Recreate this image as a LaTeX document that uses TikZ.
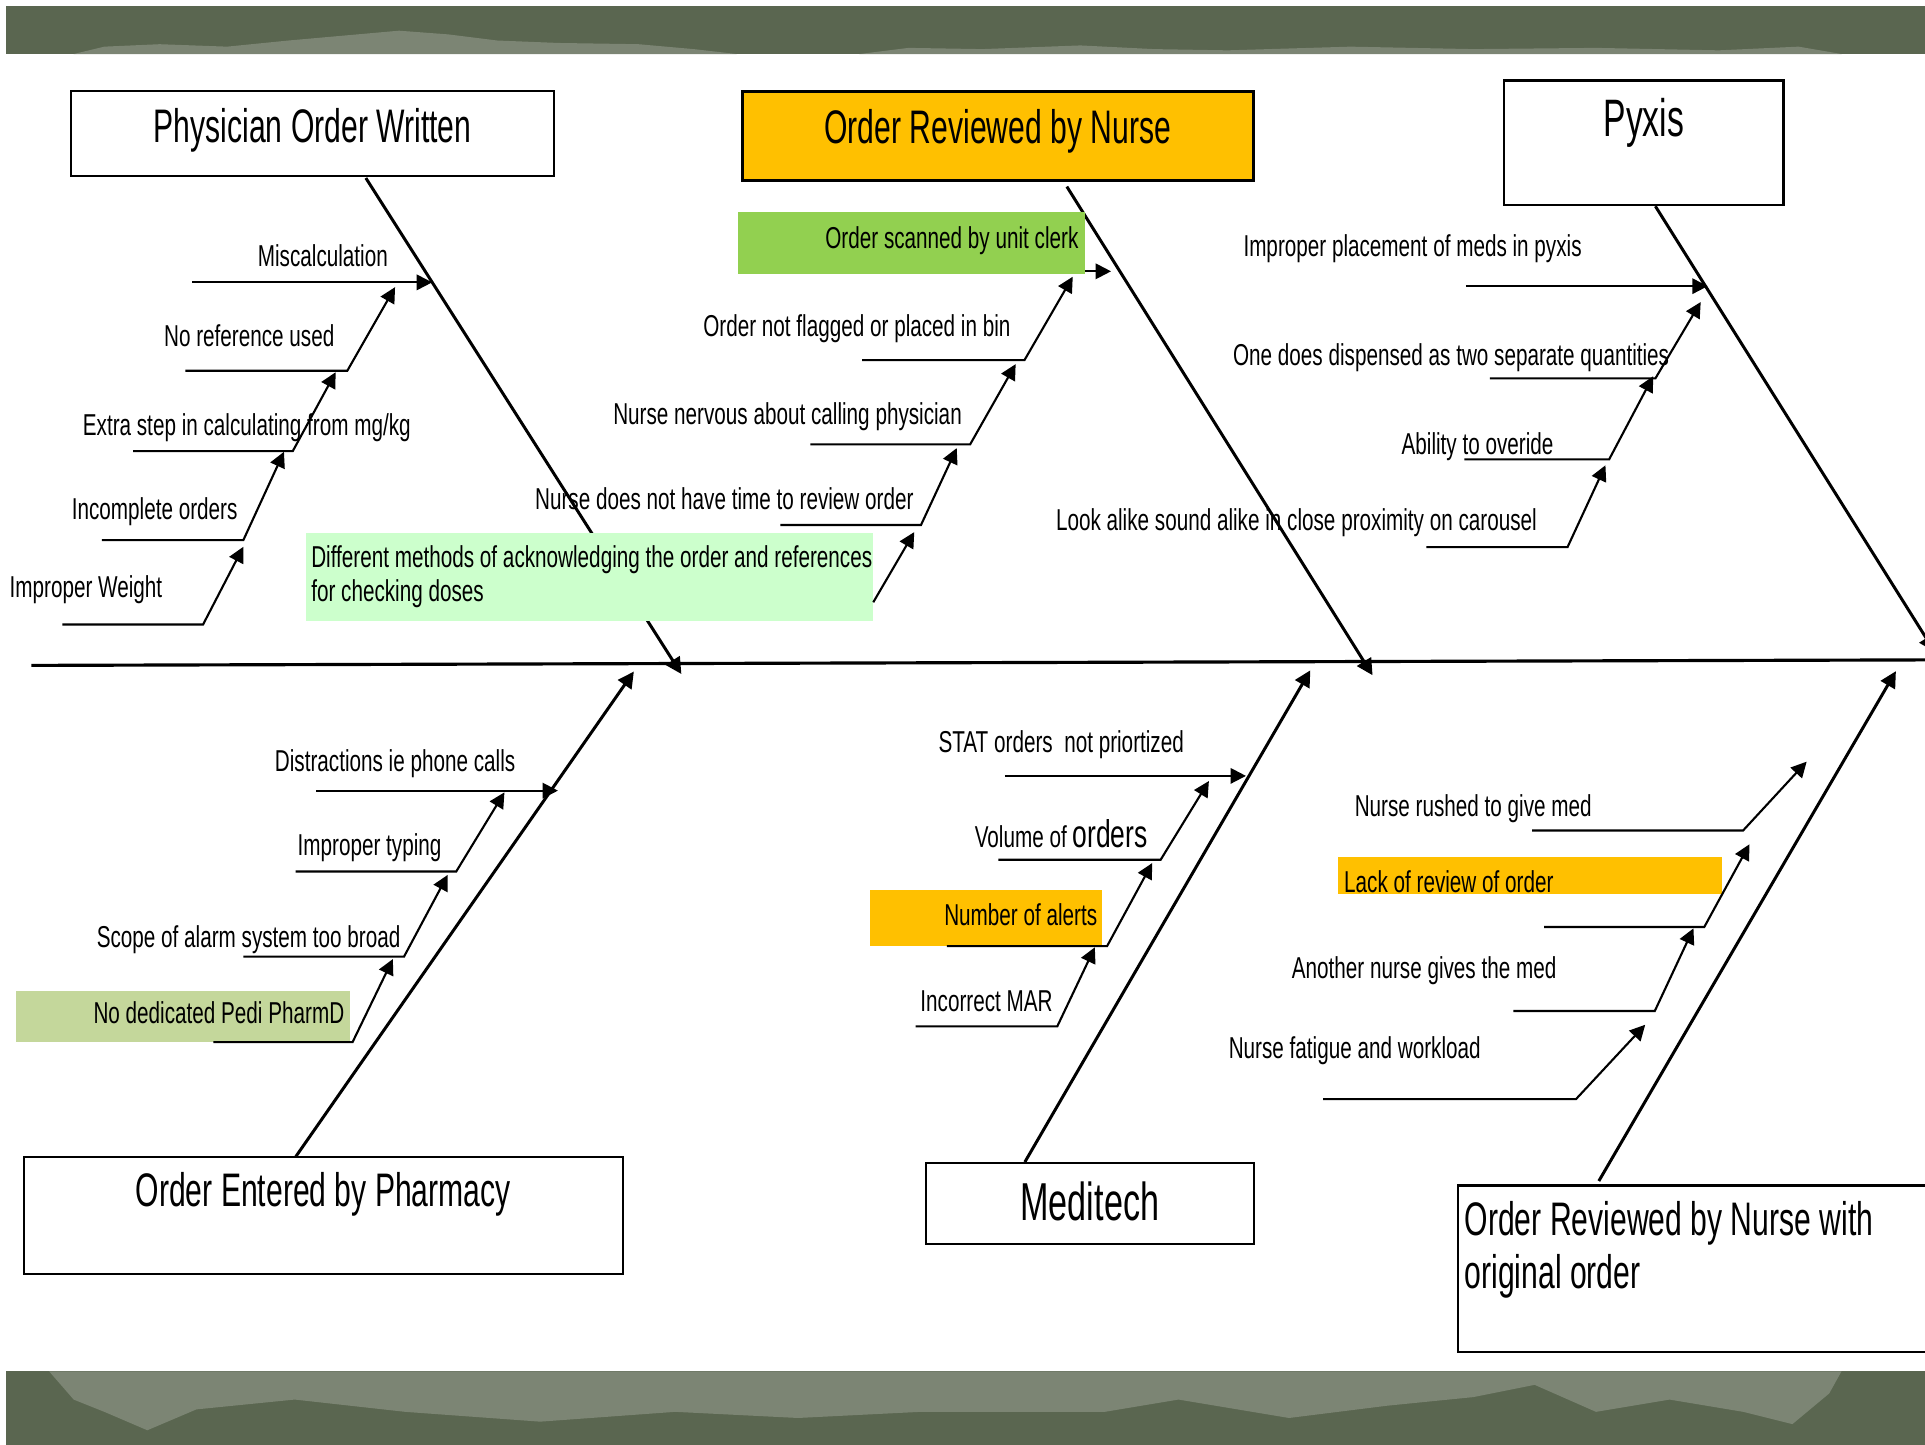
\documentclass[tikz,border=0pt]{standalone}
\usepackage{fontspec}
\setmainfont[FakeStretch=0.64]{Liberation Sans}
\newfontfamily\causefont[FakeStretch=0.685]{Liberation Sans}
\usetikzlibrary{positioning,arrows.meta,fit}

\definecolor{bandDark}{HTML}{5A6650}
\definecolor{bandLight}{HTML}{7C8574}
\definecolor{amber}{HTML}{FFC000}
\definecolor{leafGreen}{HTML}{92D050}
\definecolor{paleGreen}{HTML}{CCFFCC}
\definecolor{oliveGreen}{HTML}{C4D79B}

\tikzset{
  spine/.style={line width=0.9pt},
  bone/.style={line width=0.85pt,-{Triangle[length=4.6pt,width=4.6pt]}},
  twig/.style={line width=0.6pt,-{Triangle[length=4.4pt,width=4.4pt]}},
  catbox/.style={draw,line width=0.6pt,inner sep=0pt},
  hilite/.style={inner sep=0pt},
  causetext/.style={font=\causefont\fontsize{8.6}{9.6}\selectfont,inner sep=0pt},
  cause/.style={causetext,text height=1.6ex,text depth=0.4ex},
  cattext/.style={font=\fontsize{13.4}{15.2}\selectfont,inner sep=0pt},
}

\begin{document}
\begin{tikzpicture}[x=0.012277cm,y=-0.012277cm]
	\useasboundingbox (0,0) rectangle (1568,1177);
	\clip (0,0) rectangle (1568,1177);
	
	% background bands
	\fill[bandDark] (5,5) rectangle (1568,44);
	\fill[bandLight] (60,44) -- (85,38) -- (130,36) -- (185,38) -- (235,33) -- (280,29) -- (325,25) -- (365,28) -- (405,33) -- (455,35) -- (520,36) -- (565,40) -- (600,44) -- cycle;
	\fill[bandLight] (700,44) -- (740,39) -- (800,40) -- (880,37) -- (940,40) -- (1000,41) -- (1100,38) -- (1200,40) -- (1300,39) -- (1400,41) -- (1465,38) -- (1500,44) -- cycle;
	\fill[bandDark] (5,1117) rectangle (1568,1177);
	\fill[bandLight] (40,1117) -- (60,1140) -- (85,1150) -- (120,1165) -- (160,1148) -- (240,1140) -- (330,1150) -- (440,1158) -- (550,1150) -- (650,1155) -- (750,1150) -- (900,1150) -- (960,1140) -- (1050,1155) -- (1130,1145) -- (1200,1138) -- (1250,1128) -- (1300,1150) -- (1360,1140) -- (1420,1150) -- (1460,1160) -- (1490,1135) -- (1500,1117) -- cycle;
	
	% spine
	\coordinate (tail) at (25.5,542);
	\coordinate (head) at (1570,537.5);
	\draw[spine] (tail) -- (head);
	
	% category boxes
	\node[catbox,fit={(58,74) (451,143)}] (phys) {};
	\node[cattext] (physT) at (254.6,106.5) {Physician Order Written};
	\node[catbox,fill=amber,line width=0.9pt,fit={(604.7,74.2) (1021.1,147.1)}] (nurse) {};
	\node[cattext] (nurseT) at (812.7,107) {Order Reviewed by Nurse};
	\node[catbox,fit={(1224.8,65.6) (1452.7,167.1)}] (pyxis) {};
	\node[cattext,font=\fontsize{15}{17}\selectfont] (pyxisT) at (1339,100) {Pyxis};
	\node[catbox,fit={(19.3,942.4) (507.2,1037.4)}] (pharm) {};
	\node[cattext] (pharmT) at (263.3,972.5) {Order Entered by Pharmacy};
	\node[catbox,fit={(754,947.5) (1021.2,1013.4)}] (medi) {};
	\node[cattext,font=\fontsize{15.2}{17}\selectfont] (mediT) at (887.7,979) {Meditech};
	\node[catbox,fit={(1187.6,965.6) (1600,1101)}] (recheck) {};
	\node[cattext,anchor=west,align=left] (recheckT) at (1192.5,1018) {Order Reviewed by Nurse with\\original order};
	
	% Physician Order Written
	\coordinate (physS) at (298,145);
	\coordinate (physE) at (555,549);
	\draw[bone] (physS) -- (physE);
	\coordinate (miscA) at (156.4,230); \coordinate (miscC) at (352,230);
	\draw[twig] (miscA) -- (miscC);
	\node[cause] (miscL) at (263,208) {Miscalculation};
	\coordinate (nrefA) at (150.9,302); \coordinate (nrefB) at (282.9,302); \coordinate (nrefC) at (321.8,233.9);
	\draw[twig] (nrefA) -- (nrefB) -- (nrefC);
	\node[cause] (nrefL) at (203,273) {No reference used};
	\coordinate (xtraA) at (108.4,367.4); \coordinate (xtraB) at (238.5,367.4); \coordinate (xtraC) at (273.4,303.2);
	\draw[twig] (xtraA) -- (xtraB) -- (xtraC);
	\node[cause] (xtraL) at (201,346) {Extra step in calculating from mg/kg};
	\coordinate (incoA) at (82.9,440); \coordinate (incoB) at (198.2,440); \coordinate (incoC) at (231.3,368);
	\draw[twig] (incoA) -- (incoB) -- (incoC);
	\node[cause] (incoL) at (126,414) {Incomplete orders};
	\coordinate (wgtA) at (50.9,508.7); \coordinate (wgtB) at (165.4,508.7); \coordinate (wgtC) at (198.2,445.4);
	\draw[twig] (wgtA) -- (wgtB) -- (wgtC);
	\node[cause] (wgtL) at (70,478) {Improper Weight};
	
	% Order Reviewed by Nurse
	\coordinate (nurseS) at (869,152);
	\coordinate (nurseE) at (1118,550);
	\draw[bone] (nurseS) -- (nurseE);
	\node[hilite,fill=paleGreen,fit={(249,434) (711,506)}] (diff) {};
	\node[causetext,anchor=west,align=left] (diffL) at (253,470) {Different methods of acknowledging the order and references\\for checking doses};
	\coordinate (diffA) at (711.3,490.6); \coordinate (diffC) at (744.7,433.4);
	\draw[twig] (diffA) -- (diffC);
	\node[hilite,fill=leafGreen,fit={(601,173) (884,223)}] (scan) {};
	\node[cause,anchor=east] (scanL) at (879,193) {Order scanned by unit clerk};
	\coordinate (scanA) at (884,221); \coordinate (scanC) at (905,221);
	\draw[twig] (scanA) -- (scanC);
	\coordinate (flagA) at (702.2,293.3); \coordinate (flagB) at (834.5,293.3); \coordinate (flagC) at (873.8,225.4);
	\draw[twig] (flagA) -- (flagB) -- (flagC);
	\node[cause] (flagL) at (698,265) {Order not flagged or placed in bin};
	\coordinate (nervA) at (660,362); \coordinate (nervB) at (790.2,362); \coordinate (nervC) at (827.3,296.6);
	\draw[twig] (nervA) -- (nervB) -- (nervC);
	\node[cause] (nervL) at (641.5,337) {Nurse nervous about calling physician};
	\coordinate (timeA) at (635.6,427.6); \coordinate (timeB) at (750.2,427.6); \coordinate (timeC) at (779.3,365);
	\draw[twig] (timeA) -- (timeB) -- (timeC);
	\node[cause] (timeL) at (590,406) {Nurse does not have time to review order};
	
	% Pyxis
	\coordinate (pyxS) at (1348.4,168);
	\coordinate (pyxE) at (1576,531);
	\draw[bone] (pyxS) -- (pyxE);
	\coordinate (placA) at (1194,233.1); \coordinate (placC) at (1391,233.1);
	\draw[twig] (placA) -- (placC);
	\node[cause] (placL) at (1150.6,199.5) {Improper placement of meds in pyxis};
	\coordinate (oneA) at (1213.5,308.2); \coordinate (oneB) at (1348.4,308.2); \coordinate (oneC) at (1385.3,246);
	\draw[twig] (oneA) -- (oneB) -- (oneC);
	\node[cause] (oneL) at (1182,289) {One does dispensed as two separate quantities};
	\coordinate (ovrA) at (1192.8,374.2); \coordinate (ovrB) at (1310.7,374.2); \coordinate (ovrC) at (1346.5,306.5);
	\draw[twig] (ovrA) -- (ovrB) -- (ovrC);
	\node[cause] (ovrL) at (1203.5,361) {Ability to overide};
	\coordinate (lookA) at (1161.9,445.7); \coordinate (lookB) at (1276.8,445.7); \coordinate (lookC) at (1307.7,379);
	\draw[twig] (lookA) -- (lookB) -- (lookC);
	\node[cause] (lookL) at (1056,423) {Look alike sound alike in close proximity on carousel};
	
	% Order Entered by Pharmacy
	\coordinate (pharmS) at (241,942);
	\coordinate (pharmE) at (516.3,547);
	\draw[bone] (pharmS) -- (pharmE);
	\coordinate (distA) at (257.4,644); \coordinate (distC) at (454.5,644);
	\draw[twig] (distA) -- (distC);
	\node[cause] (distL) at (321.8,619) {Distractions ie phone calls};
	\coordinate (typA) at (240.7,709.9); \coordinate (typB) at (371.6,709.9); \coordinate (typC) at (410.9,645.4);
	\draw[twig] (typA) -- (typB) -- (typC);
	\node[cause] (typL) at (301,688) {Improper typing};
	\coordinate (scopA) at (198.2,779.2); \coordinate (scopB) at (329.1,779.2); \coordinate (scopC) at (364.7,712.6);
	\draw[twig] (scopA) -- (scopB) -- (scopC);
	\node[cause] (scopL) at (202.5,763) {Scope of alarm system\ too broad};
	\node[hilite,fill=oliveGreen,fit={(13,807) (285,849)}] (pedi) {};
	\node[cause,anchor=east] (pediL) at (281,825) {No dedicated Pedi PharmD};
	\coordinate (pediA) at (173.8,848.8); \coordinate (pediB) at (287.2,848.8); \coordinate (pediC) at (320,781.2);
	\draw[twig] (pediA) -- (pediB) -- (pediC);
	
	% Meditech
	\coordinate (mediS) at (834.8,946.5);
	\coordinate (mediE) at (1067.3,546);
	\draw[bone] (mediS) -- (mediE);
	\coordinate (statA) at (818.5,632); \coordinate (statC) at (1014.9,632);
	\draw[twig] (statA) -- (statC);
	\node[cause] (statL) at (864.4,603.6) {STAT orders\ \ not priortized};
	\coordinate (volA) at (813.2,700.3); \coordinate (volB) at (945.4,700.3); \coordinate (volC) at (984.7,636.2);
	\draw[twig] (volA) -- (volB) -- (volC);
	\node[cause] (volL) at (864.4,681) {Volume of {\fontsize{11}{12}\selectfont orders}};
	\node[hilite,fill=amber,fit={(708.5,725.3) (898,770.6)}] (alrt) {};
	\node[cause,anchor=east] (alrtL) at (894.3,745) {Number of alerts};
	\coordinate (alrtA) at (771.2,770.6); \coordinate (alrtB) at (901.8,770.6); \coordinate (alrtC) at (938.5,703);
	\draw[twig] (alrtA) -- (alrtB) -- (alrtC);
	\coordinate (marA) at (745.9,836); \coordinate (marB) at (861.2,836); \coordinate (marC) at (891.8,771.6);
	\draw[twig] (marA) -- (marB) -- (marC);
	\node[cause] (marL) at (803.6,814.5) {Incorrect MAR};
	
	% Order Reviewed by Nurse with original order
	\coordinate (recS) at (1302.3,962);
	\coordinate (recE) at (1544.3,546.7);
	\draw[bone] (recS) -- (recE);
	\coordinate (rushA) at (1248,676.5); \coordinate (rushB) at (1419.8,676.5); \coordinate (rushC) at (1471.6,620.4);
	\draw[twig] (rushA) -- (rushB) -- (rushC);
	\node[cause] (rushL) at (1200,656) {Nurse rushed to give med};
	\node[hilite,fill=amber,fit={(1089.7,698.2) (1402.6,728.1)}] (lack) {};
	\node[cause,anchor=west] (lackL) at (1094.3,717.7) {Lack of review of order};
	\coordinate (lackA) at (1257.7,755.1); \coordinate (lackB) at (1388.2,755.1); \coordinate (lackC) at (1425,687.7);
	\draw[twig] (lackA) -- (lackB) -- (lackC);
	\coordinate (anoA) at (1232.8,823.5); \coordinate (anoB) at (1347.9,823.5); \coordinate (anoC) at (1379.4,756.2);
	\draw[twig] (anoA) -- (anoB) -- (anoC);
	\node[cause] (anoL) at (1160,787.6) {Another nurse gives the med};
	\coordinate (fatA) at (1077.8,895.3); \coordinate (fatB) at (1283.7,895.3); \coordinate (fatC) at (1340.1,834.7);
	\draw[twig] (fatA) -- (fatB) -- (fatC);
	\node[cause] (fatL) at (1103.5,853) {Nurse fatigue and workload};
	
\end{tikzpicture}
\end{document}
